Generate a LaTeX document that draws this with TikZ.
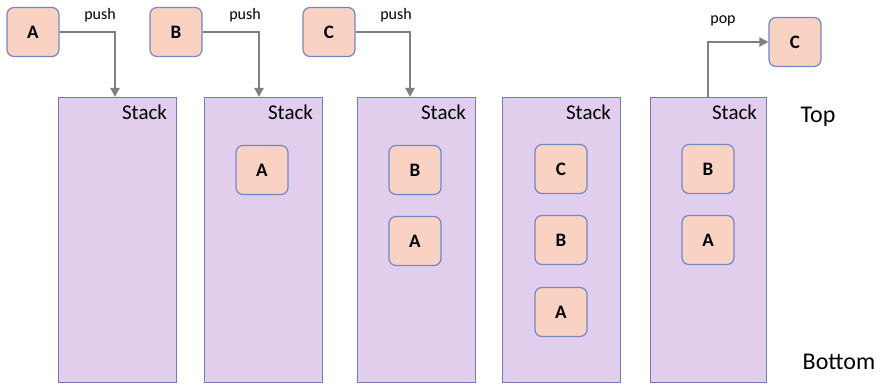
\documentclass[tikz,border=0pt]{standalone}
\usepackage{fontspec}
\setmainfont{Carlito}
\usetikzlibrary{arrows.meta}
\definecolor{stackfill}{RGB}{224,206,236}
\definecolor{stackline}{RGB}{110,125,185}
\definecolor{itemfill}{RGB}{250,210,195}
\definecolor{itemline}{RGB}{115,135,195}
\definecolor{arrowc}{RGB}{128,128,128}
\begin{document}
\begin{tikzpicture}[x=1pt,y=-1pt,
  stackbox/.style={draw=stackline,fill=stackfill,line width=1.2pt,minimum width=118pt,minimum height=285pt,inner sep=0pt,anchor=north west},
  item/.style={draw=itemline,fill=itemfill,line width=1.2pt,rounded corners=7pt,minimum width=52pt,minimum height=49pt,inner sep=0pt,font=\fontsize{19}{19}\selectfont\bfseries},
  lbl/.style={font=\fontsize{21}{21}\selectfont},
  oplbl/.style={font=\fontsize{16}{16}\selectfont},
  big/.style={font=\fontsize{24}{24}\selectfont},
  arr/.style={draw=arrowc,line width=2pt,-{Triangle[length=9pt,width=9pt]}}
]
\useasboundingbox (0,0) rectangle (881,385);
% stacks
\node[stackbox] (s1) at (58,97) {};
\node[stackbox] (s2) at (204,97) {};
\node[stackbox] (s3) at (357,97) {};
\node[stackbox] (s4) at (502,97) {};
\node[stackbox,minimum width=116pt] (s5) at (650,97) {};
\foreach \s in {s1,s2,s3,s4,s5}{
  \node[lbl,anchor=east,inner sep=0pt] (\s lab) at ([xshift=-10pt,yshift=-15pt]\s.north east) {Stack};
}
% incoming items
\node[item] (ia) at (33,32) {A};
\node[item] (ib) at (176,32) {B};
\node[item] (ic) at (329,32) {C};
\node[item] (oc) at (795,42) {C};
% stack contents
\node[item] (s2a) at (262,170) {A};
\node[item] (s3b) at (415,170) {B};
\node[item] (s3a) at (415,241) {A};
\node[item] (s4c) at (561,169) {C};
\node[item] (s4b) at (561,240) {B};
\node[item] (s4a) at (561,312) {A};
\node[item] (s5b) at (708,169) {B};
\node[item] (s5a) at (708,240) {A};
% arrows
\coordinate (t1) at (115,97);
\coordinate (t2) at (259,97);
\coordinate (t3) at (410,97);
\coordinate (t5) at (708,97);
\draw[arr] (ia.east) -| (t1);
\draw[arr] (ib.east) -| (t2);
\draw[arr] (ic.east) -| (t3);
\draw[arr] (t5) |- (oc.west);
\node[oplbl] (p1) at (100,15) {push};
\node[oplbl] (p2) at (245,15) {push};
\node[oplbl] (p3) at (396,15) {push};
\node[oplbl] (p4) at (723,21) {pop};
\node[big] (top) at (818,117) {Top};
\node[big] (bot) at (839,362) {Bottom};
\end{tikzpicture}
\end{document}
